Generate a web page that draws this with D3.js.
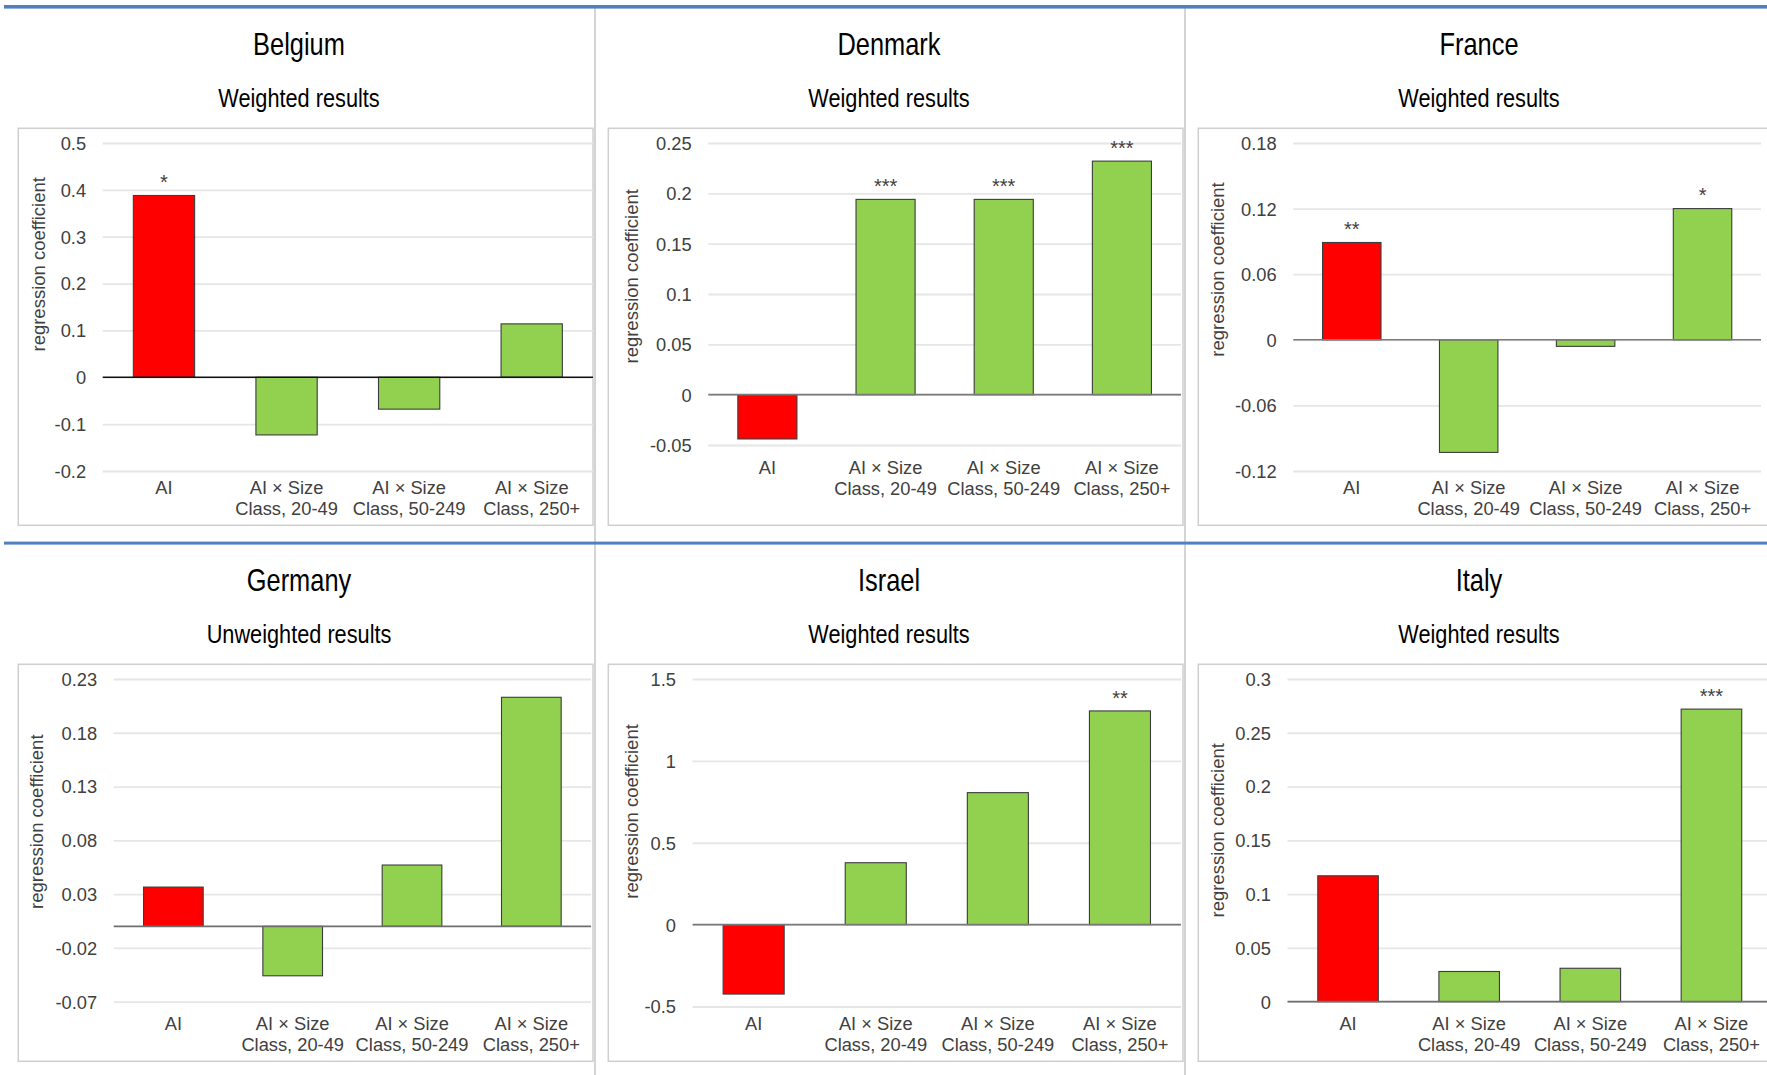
<!DOCTYPE html>
<html>
<head>
<meta charset="utf-8">
<script src="https://cdn.jsdelivr.net/npm/d3@7"></script>
<style>
  html, body { margin: 0; padding: 0; background: #ffffff; }
  svg { display: block; }
</style>
</head>
<body>
<svg id="chart" width="1767" height="1075"></svg>
<script>
// ---- data ----
const categories = ["AI", "AI × Size Class, 20-49", "AI × Size Class, 50-249", "AI × Size Class, 250+"];
const countries = ["Belgium", "Denmark", "France", "Germany", "Israel", "Italy"];
const subtitles = ["Weighted results", "Weighted results", "Weighted results",
                   "Unweighted results", "Weighted results", "Weighted results"];

const belgiumValues = [0.388, -0.123, -0.068, 0.114];
const denmarkValues = [-0.044, 0.194, 0.194, 0.232];
const franceValues  = [0.089, -0.103, -0.006, 0.120];
const germanyValues = [0.0365, -0.046, 0.057, 0.213];
const israelValues  = [-0.424, 0.378, 0.806, 1.305];
const italyValues   = [0.117, 0.028, 0.031, 0.272];

// significance markers
const belgiumStars = ["*", "", "", ""];
const denmarkStars = ["", "***", "***", "***"];
const franceStars  = ["**", "", "", "*"];
const germanyStars = ["", "", "", ""];
const israelStars  = ["", "", "", "**"];
const italyStars   = ["", "", "", "***"];

// value-axis ticks
const belgiumTicks = [-0.2, -0.1, 0, 0.1, 0.2, 0.3, 0.4, 0.5];
const denmarkTicks = [-0.05, 0, 0.05, 0.1, 0.15, 0.2, 0.25];
const franceTicks  = [-0.12, -0.06, 0, 0.06, 0.12, 0.18];
const germanyTicks = [-0.07, -0.02, 0.03, 0.08, 0.13, 0.18, 0.23];
const israelTicks  = [-0.5, 0, 0.5, 1, 1.5];
const italyTicks   = [0, 0.05, 0.1, 0.15, 0.2, 0.25, 0.3];

const panelValues = [belgiumValues, denmarkValues, franceValues, germanyValues, israelValues, italyValues];
const panelStars  = [belgiumStars, denmarkStars, franceStars, germanyStars, israelStars, italyStars];
const panelTicks  = [belgiumTicks, denmarkTicks, franceTicks, germanyTicks, israelTicks, italyTicks];

// ---- layout ----
const colX = [4, 594, 1184];
const rowY = [0, 536];
const plotTop = 143;
// per panel: horizontal extent of the value grid, bottom of the value axis,
// centre of first category-label line, axis-title position
const plotBoxes = [
  { left: 102.7,  right: 593,  bottom: 471,   label: 488,   titleX: 39.4,   titleY: 264.3 },
  { left: 708.3,  right: 1181, bottom: 445,   label: 468,   titleX: 632,    titleY: 276.3 },
  { left: 1293.3, right: 1761, bottom: 471,   label: 488,   titleX: 1218.6, titleY: 269.5 },
  { left: 113.7,  right: 591,  bottom: 465.6, label: 487.3, titleX: 37.1,   titleY: 285.7 },
  { left: 692.6,  right: 1181, bottom: 470.5, label: 487.3, titleX: 632.1,  titleY: 275.4 },
  { left: 1287.5, right: 1772, bottom: 465.6, label: 487.3, titleX: 1218.6, titleY: 294.3 }
];
const zeroLineColors = ["#111111", "#7a7a7a", "#7a7a7a", "#6e6e6e", "#7a7a7a", "#6e6e6e"];

const sansFont = "'Liberation Sans', Arial, Helvetica, sans-serif";
const textGray = "#404040";
const red = "#ff0000";
const green = "#92d050";
const narrowScale = 0.82;   // condensed look for the headings

const fmt = v => String(+v.toFixed(4));

const svg = d3.select("#chart");
svg.append("rect").attr("width", 1767).attr("height", 1075).attr("fill", "#ffffff");

// column dividers
[595, 1185].forEach(xv => {
  svg.append("line")
    .attr("x1", xv).attr("x2", xv).attr("y1", 8).attr("y2", 1075)
    .attr("stroke", "#d4d4d4").attr("stroke-width", 2);
});

countries.forEach((country, i) => {
  const col = i % 3, row = Math.floor(i / 3);
  const ox = colX[col], oy = rowY[row];
  const box = plotBoxes[i];
  const values = panelValues[i], stars = panelStars[i], ticks = panelTicks[i];

  const g = svg.append("g").attr("class", "panel");

  // chart frame
  g.append("rect")
    .attr("x", ox + 14.3).attr("y", oy + 128.3)
    .attr("width", 574.7).attr("height", 397)
    .attr("fill", "none").attr("stroke", "#cfcfcf").attr("stroke-width", 1.5);

  // headings
  g.append("text")
    .attr("transform", `translate(${ox + 295},${oy + 55}) scale(${narrowScale},1)`)
    .attr("text-anchor", "middle")
    .style("font-family", sansFont).style("font-size", "31px")
    .attr("fill", "#000").text(country);
  g.append("text")
    .attr("transform", `translate(${ox + 295},${oy + 107.4}) scale(${narrowScale},1)`)
    .attr("text-anchor", "middle")
    .style("font-family", sansFont).style("font-size", "26.5px")
    .attr("fill", "#000").text(subtitles[i]);

  // scales
  const y = d3.scaleLinear()
    .domain([d3.min(ticks), d3.max(ticks)])
    .range([oy + box.bottom, oy + plotTop]);
  const x = d3.scaleBand()
    .domain(categories)
    .range([box.left, box.right])
    .paddingInner(0.5).paddingOuter(0.25);

  // value axis with gridlines
  const yAxis = d3.axisLeft(y)
    .tickValues(ticks)
    .tickSize(-(box.right - box.left))
    .tickPadding(16.6)
    .tickFormat(fmt);
  const gy = g.append("g").attr("transform", `translate(${box.left},0)`).call(yAxis);
  gy.select(".domain").remove();
  gy.selectAll(".tick line").attr("stroke", "#e6e6e6").attr("stroke-width", 1.8);
  gy.selectAll(".tick text")
    .attr("fill", textGray).attr("dy", "0.35em")
    .style("font-family", sansFont).style("font-size", "18.3px");

  // bars
  g.selectAll("rect.bar")
    .data(values)
    .join("rect")
    .attr("class", "bar")
    .attr("x", (d, k) => x(categories[k]))
    .attr("width", x.bandwidth())
    .attr("y", d => Math.min(y(d), y(0)))
    .attr("height", d => Math.abs(y(d) - y(0)))
    .attr("fill", (d, k) => k === 0 ? red : green)
    .attr("stroke", "#3c3c3c").attr("stroke-width", 1.1);

  // zero line
  g.append("line")
    .attr("x1", box.left).attr("x2", box.right)
    .attr("y1", y(0)).attr("y2", y(0))
    .attr("stroke", zeroLineColors[i]).attr("stroke-width", 1.6);

  // significance markers
  g.selectAll("text.star")
    .data(values)
    .join("text")
    .attr("class", "star")
    .attr("x", (d, k) => x(categories[k]) + x.bandwidth() / 2)
    .attr("y", d => y(Math.max(d, 0)) - 6.4)
    .attr("text-anchor", "middle")
    .style("font-family", sansFont).style("font-size", "20px")
    .attr("fill", textGray)
    .text((d, k) => stars[k]);

  // category axis (labels only)
  const xAxis = d3.axisBottom(x).tickSize(0).tickPadding(0);
  const gx = g.append("g").attr("transform", `translate(0,${oy + box.label})`).call(xAxis);
  gx.select(".domain").remove();
  gx.selectAll(".tick text")
    .attr("y", 0).attr("dy", null)
    .attr("fill", textGray)
    .style("font-family", sansFont).style("font-size", "18.3px")
    .each(function(label) {
      const lines = label.split(/ (?=Class)/);
      const t = d3.select(this).text(null);
      lines.forEach((ln, li) => {
        t.append("tspan").attr("x", 0)
          .attr("dy", li === 0 ? "0.35em" : "21px")
          .text(ln);
      });
    });

  // axis title
  g.append("text")
    .attr("transform", `translate(${box.titleX},${oy + box.titleY}) rotate(-90)`)
    .attr("text-anchor", "middle").attr("dy", "0.3em")
    .style("font-family", sansFont).style("font-size", "18.5px")
    .attr("fill", textGray)
    .text("regression coefficient");
});

// blue row rules
svg.append("rect").attr("x", 4).attr("y", 5).attr("width", 1763).attr("height", 3.6).attr("fill", "#4f81bd");
svg.append("rect").attr("x", 4).attr("y", 541.6).attr("width", 1763).attr("height", 3).attr("fill", "#4f81bd");
</script>
</body>
</html>
